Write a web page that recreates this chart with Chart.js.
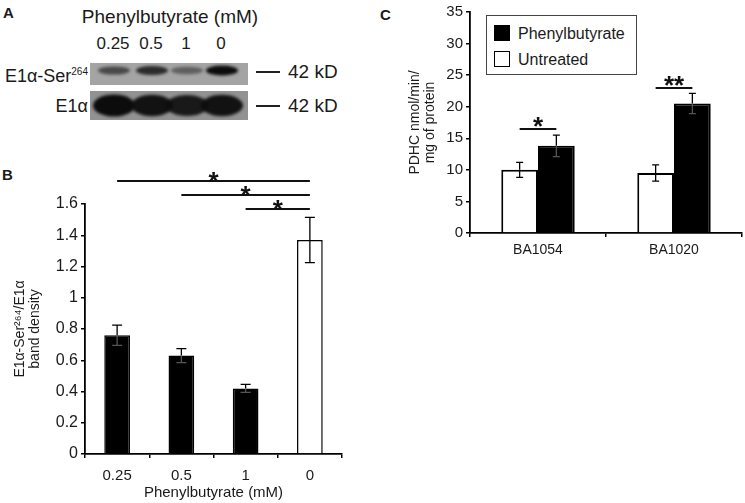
<!DOCTYPE html>
<html>
<head>
<meta charset="utf-8">
<script src="https://cdn.jsdelivr.net/npm/chart.js@4.4.0/dist/chart.umd.min.js"></script>
<style>
  html, body { margin: 0; padding: 0; background: #fff; }
  body { width: 745px; height: 503px; position: relative; overflow: hidden;
         font-family: "Liberation Sans", Arial, sans-serif; color: #1a1a1a; }
  .abs { position: absolute; white-space: nowrap; }
  .panel { font-weight: bold; font-size: 15px; line-height: 16px; }
  .mid { transform: translateX(-50%); }
  .dash { position: absolute; height: 2px; background: #222; width: 24px; left: 256px; }
  #legendC { position: absolute; left: 486px; top: 15px; width: 149px; height: 58px;
             border: 1.5px solid #444; background: #fff; }
  #legendC div { position: absolute; left: 7px; font-size: 16px; line-height: 18px; white-space: nowrap; }
  #legendC span { display: inline-block; width: 14px; height: 14px; border: 1.5px solid #000;
                  vertical-align: -2px; margin-right: 8px; }
</style>
</head>
<body>

<!-- panel letters -->
<div class="abs panel" style="left:3px;top:5px">A</div>
<div class="abs panel" style="left:2px;top:167px">B</div>
<div class="abs panel" style="left:380px;top:7px">C</div>

<!-- panel A: blot -->
<div class="abs mid" style="left:170px;top:6px;font-size:19px;line-height:22px">Phenylbutyrate (mM)</div>
<div id="laneLabels"></div>
<div class="abs" style="right:657px;top:61px;font-size:18px;line-height:22px">E1α-Ser<sup style="font-size:10px;vertical-align:7px">264</sup></div>
<div class="abs" style="right:657px;top:95px;font-size:18px;line-height:22px">E1α</div>
<div class="dash" style="top:71px"></div>
<div class="dash" style="top:105px"></div>
<div class="abs" style="left:288px;top:61px;font-size:19px;line-height:22px">42 kD</div>
<div class="abs" style="left:288px;top:95px;font-size:19px;line-height:22px">42 kD</div>
<canvas id="blot" width="170" height="70" style="position:absolute;left:85px;top:55px"></canvas>

<!-- panel B and C -->
<canvas id="chartB" width="380" height="353" style="position:absolute;left:0;top:150px"></canvas>
<canvas id="chartC" width="365" height="262" style="position:absolute;left:380px;top:0"></canvas>
<div id="legendC"></div>

<script>
/* ---------------------------------- data ---------------------------------- */

// panel B
let bCategories = ['0.25', '0.5', '1', '0']
let bValues = [0.76, 0.63, 0.42, 1.37]
let bErrors = [0.065, 0.045, 0.025, 0.145]
let bTickLabels = ['0', '0.2', '0.4', '0.6', '0.8', '1', '1.2', '1.4', '1.6']
let bSigFrom = [0, 1, 2]
let bSigTo = [3, 3, 3]
let bSigHeight = [1.75, 1.66, 1.565]

// panel C
let cCategories = ['BA1054', 'BA1020']
let cUntreated = [10.0, 9.5]
let cUntreatedErr = [1.2, 1.3]
let cPhenyl = [13.8, 20.5]
let cPhenylErr = [1.7, 1.6]
let cTickLabels = ['0', '5', '10', '15', '20', '25', '30', '35']
let cSigHeight = [16.5, 22.9]
let cSigMark = ['*', '**']

// panel A band strength (relative)
let phosBand = [0.6, 0.8, 0.45, 1.0]
let totalBand = [1.0, 0.95, 0.9, 0.95]

/* -------------------------------- panel A --------------------------------- */

let laneX = [113, 151, 186, 221]
let laneLabels = document.querySelector('#laneLabels')
bCategories.forEach((c, i) => {
    let d = document.createElement('div')
    d.className = 'abs mid'
    d.style.cssText = 'left:' + laneX[i] + 'px;top:34px;font-size:17px;line-height:20px'
    d.textContent = c
    laneLabels.appendChild(d)
})

let blot = document.querySelector('#blot').getContext('2d')

function strip(y0, h, bg, bands, ry, rx) {
    blot.save()
    blot.beginPath()
    blot.rect(5, y0, 158, h)
    blot.clip()
    blot.fillStyle = bg
    blot.fillRect(5, y0, 158, h)
    blot.filter = 'blur(1.6px)'
    bands.forEach((s, i) => {
        blot.fillStyle = 'rgba(12,12,12,' + s + ')'
        blot.beginPath()
        blot.ellipse(laneX[i] - 85 + 1, y0 + h / 2 - (h > 25 ? 0 : 3.5), rx, ry * (0.55 + 0.45 * s), 0, 0, Math.PI * 2)
        blot.fill()
    })
    blot.restore()
}
strip(8, 22, '#a4a4a4', phosBand, 5, 16)
strip(36, 29, '#929292', totalBand, 11, 21)

/* ------------------------------ chart helpers ------------------------------ */

Chart.defaults.font.family = '"Liberation Sans", Arial, sans-serif'
Chart.defaults.color = '#1a1a1a'

let errorBars = {
    id: 'errorBars',
    afterDatasetsDraw(chart, args, opts) {
        let ctx = chart.ctx
        let y = chart.scales.y
        chart.data.datasets.forEach((ds, di) => {
            let meta = chart.getDatasetMeta(di)
            meta.data.forEach((bar, i) => {
                let v = ds.data[i], e = ds.errors[i]
                let top = y.getPixelForValue(v + e)
                let mid = y.getPixelForValue(v)
                let bot = y.getPixelForValue(v - e)
                let dark = bar.options.backgroundColor === '#000'
                ctx.save()
                ctx.lineWidth = 1.3
                ctx.strokeStyle = '#000'
                ctx.beginPath()
                ctx.moveTo(bar.x, top)
                ctx.lineTo(bar.x, mid)
                ctx.moveTo(bar.x - opts.cap, top)
                ctx.lineTo(bar.x + opts.cap, top)
                ctx.stroke()
                ctx.strokeStyle = dark ? '#555' : '#000'
                ctx.beginPath()
                ctx.moveTo(bar.x, mid)
                ctx.lineTo(bar.x, bot)
                ctx.moveTo(bar.x - opts.cap, bot)
                ctx.lineTo(bar.x + opts.cap, bot)
                ctx.stroke()
                ctx.restore()
            })
        })
    }
}

function sigMark(ctx, x1, x2, py, mark, lift) {
    ctx.save()
    ctx.lineWidth = 2
    ctx.strokeStyle = '#111'
    ctx.beginPath()
    ctx.moveTo(x1, py)
    ctx.lineTo(x2, py)
    ctx.stroke()
    ctx.fillStyle = '#111'
    ctx.font = 'bold 26px "Liberation Sans", Arial, sans-serif'
    ctx.textAlign = 'center'
    ctx.textBaseline = 'alphabetic'
    ctx.fillText(mark, (x1 + x2) / 2, py + lift)
    ctx.restore()
}

let sigB = {
    id: 'sigB',
    afterDraw(chart) {
        let bars = chart.getDatasetMeta(0).data
        let y = chart.scales.y
        bSigHeight.forEach((h, i) => {
            let py = Math.round(y.getPixelForValue(h))
            sigMark(chart.ctx, bars[bSigFrom[i]].x, bars[bSigTo[i]].x, py, '*', 9)
        })
    }
}

let sigC = {
    id: 'sigC',
    afterDraw(chart) {
        let left = chart.getDatasetMeta(0).data
        let right = chart.getDatasetMeta(1).data
        let y = chart.scales.y
        cSigHeight.forEach((h, i) => {
            let py = Math.round(y.getPixelForValue(h))
            sigMark(chart.ctx, left[i].x, right[i].x, py, cSigMark[i], 6)
        })
    }
}

let axisGrid = {
    drawOnChartArea: false,
    drawTicks: true,
    tickLength: 4,
    color: '#000',
    lineWidth: 1.5
}

/* -------------------------------- panel B --------------------------------- */

new Chart(document.querySelector('#chartB'), {
    type: 'bar',
    data: {
        labels: bCategories,
        datasets: [{
            data: bValues,
            errors: bErrors,
            backgroundColor: ['#000', '#000', '#000', '#fff'],
            borderColor: '#000',
            borderWidth: 1.5,
            barPercentage: 0.4,
            categoryPercentage: 1
        }]
    },
    options: {
        responsive: false,
        animation: false,
        devicePixelRatio: 1,
        layout: { padding: { top: 54, right: 38, left: 0, bottom: 0 } },
        plugins: { legend: { display: false }, tooltip: { enabled: false }, errorBars: { cap: 5 } },
        scales: {
            x: {
                grid: Object.assign({ offset: true }, axisGrid),
                border: { color: '#000', width: 1.8 },
                ticks: { font: { size: 15 }, padding: 9 },
                title: { display: true, text: 'Phenylbutyrate (mM)', font: { size: 15 }, padding: { top: 0, bottom: 1 } },
                afterFit: s => { s.height = 49 }
            },
            y: {
                min: 0,
                max: 1.6,
                grid: axisGrid,
                border: { color: '#000', width: 1.8 },
                ticks: { stepSize: 0.2, font: { size: 16 }, padding: 3, callback: (v, i) => bTickLabels[i] },
                title: {
                    display: true,
                    text: ['E1α-Ser²⁶⁴/E1α', 'band density'],
                    font: { size: 14, lineHeight: '15px' },
                    padding: { top: 12.5, bottom: 0 }
                },
                afterFit: s => { s.width = 85 }
            }
        }
    },
    plugins: [errorBars, sigB]
})

/* -------------------------------- panel C --------------------------------- */

let chartC = new Chart(document.querySelector('#chartC'), {
    type: 'bar',
    data: {
        labels: cCategories,
        datasets: [{
            label: 'Untreated',
            data: cUntreated,
            errors: cUntreatedErr,
            backgroundColor: '#fff',
            borderColor: '#000',
            borderWidth: 2,
            barPercentage: 1,
            categoryPercentage: 0.54
        }, {
            label: 'Phenylbutyrate',
            data: cPhenyl,
            errors: cPhenylErr,
            backgroundColor: '#000',
            borderColor: '#000',
            borderWidth: 2,
            barPercentage: 1,
            categoryPercentage: 0.54
        }]
    },
    options: {
        responsive: false,
        animation: false,
        devicePixelRatio: 1,
        layout: { padding: { top: 11, right: 3, left: 0, bottom: 0 } },
        plugins: { legend: { display: false }, tooltip: { enabled: false }, errorBars: { cap: 3.5 } },
        scales: {
            x: {
                grid: Object.assign({ offset: true }, axisGrid),
                border: { color: '#000', width: 1.8 },
                ticks: { font: { size: 14 }, padding: 5 },
                afterFit: s => { s.height = 29 }
            },
            y: {
                min: 0,
                max: 35,
                grid: axisGrid,
                border: { color: '#000', width: 1.8 },
                ticks: { stepSize: 5, font: { size: 15 }, padding: 3, callback: (v, i) => cTickLabels[i] },
                title: {
                    display: true,
                    text: ['PDHC nmol/min/', 'mg of protein'],
                    font: { size: 14, lineHeight: '15px' },
                    padding: { top: 27.5, bottom: 0 }
                },
                afterFit: s => { s.width = 90 }
            }
        }
    },
    plugins: [errorBars, sigC]
})

// legend for panel C, Phenylbutyrate first
let legendC = document.querySelector('#legendC')
chartC.data.datasets.slice().reverse().forEach((ds, i) => {
    let row = document.createElement('div')
    row.style.top = (i === 0 ? 9 : 35) + 'px'
    let sw = document.createElement('span')
    sw.style.background = ds.backgroundColor
    row.appendChild(sw)
    row.appendChild(document.createTextNode(ds.label))
    legendC.appendChild(row)
})
</script>
</body>
</html>
